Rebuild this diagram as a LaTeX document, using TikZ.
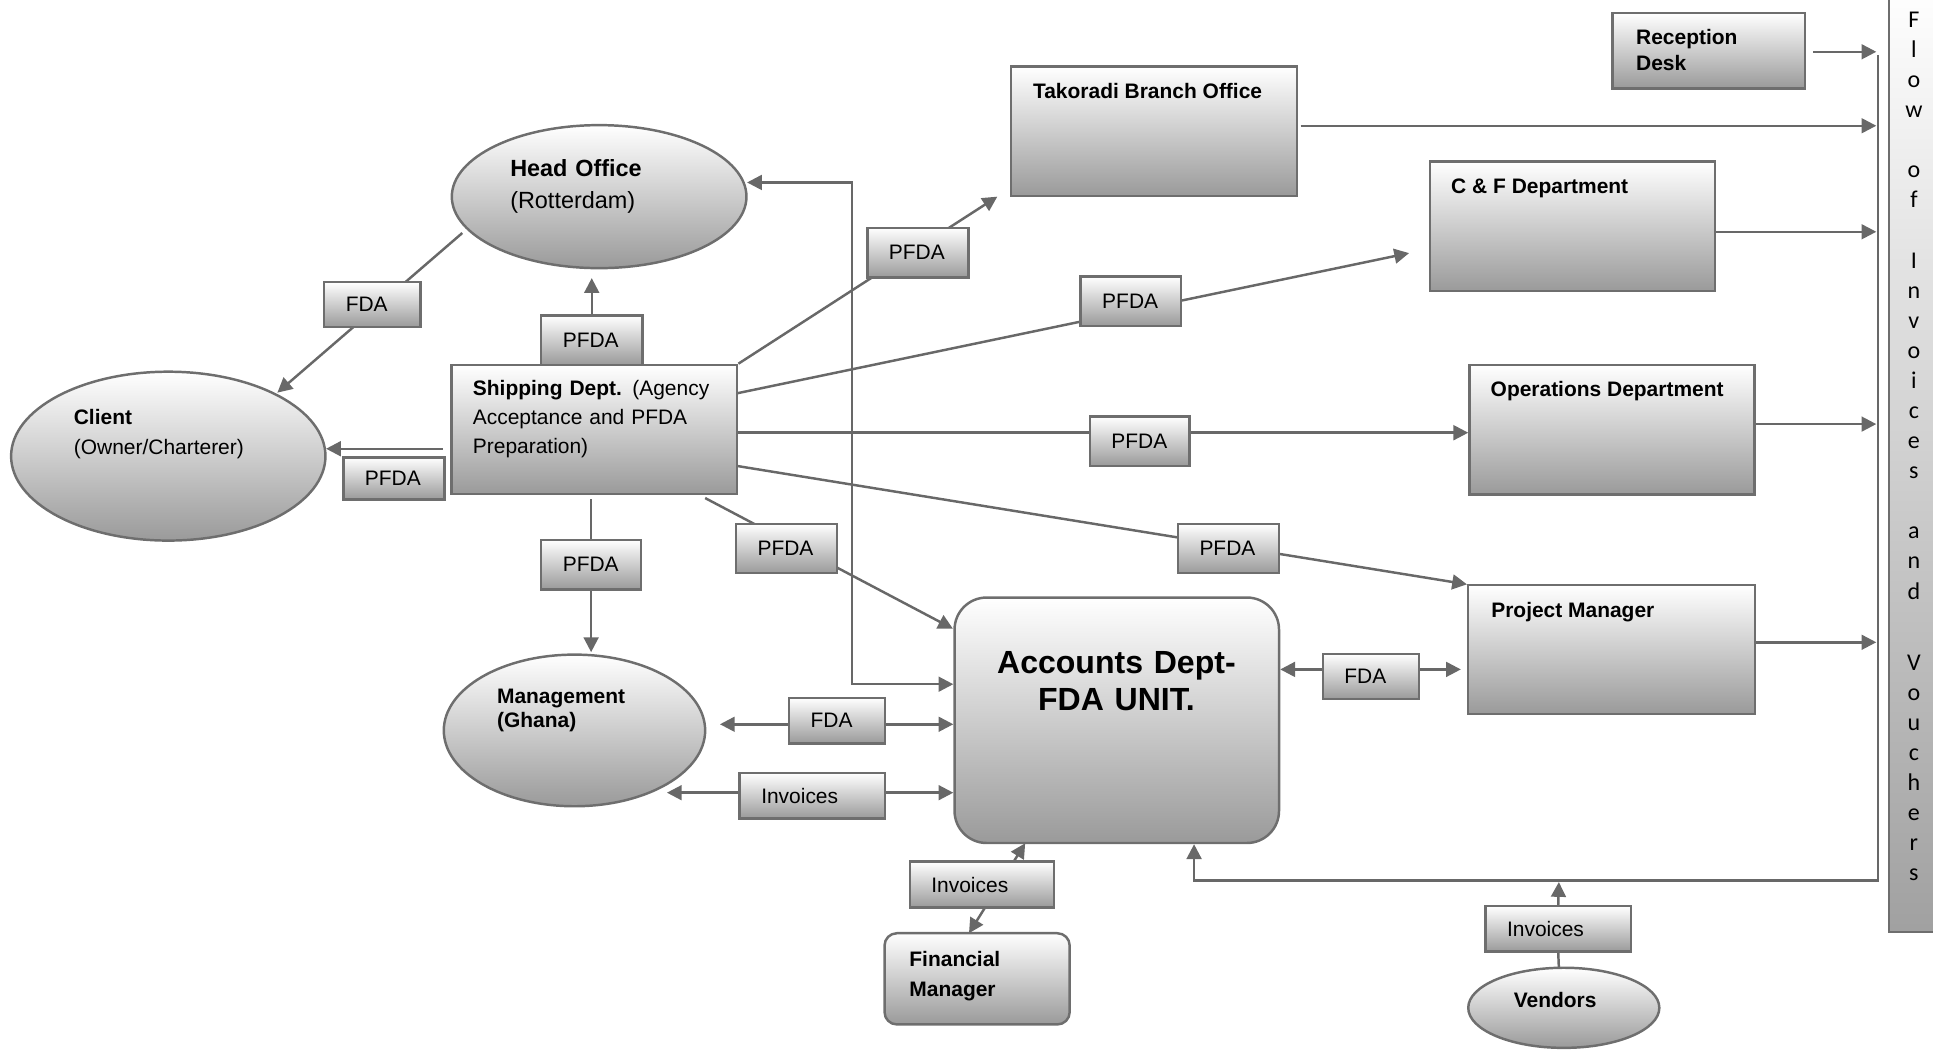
\documentclass[tikz,border=0pt]{standalone}
\usepackage{fontspec}
\setmainfont{Liberation Sans}
\newfontfamily\barfont{Carlito}
\usetikzlibrary{arrows.meta,shapes.geometric}
\pgfdeclarelayer{background}
\pgfsetlayers{background,main}
\definecolor{edgegray}{HTML}{6E6E6E}
\definecolor{linegray}{HTML}{686868}
\definecolor{shadegray}{HTML}{9A9A9A}
\newcommand\setfs[2]{\fontsize{#1}{#2}\selectfont}
\newcommand\fsNorm{\setfs{17}{23.3}}
\newcommand\fsBar{\barfont\setfs{19.5}{24.4}}

\begin{document}
\begin{tikzpicture}[x=1pt,y=-1pt,
  shaded/.style={draw=edgegray, line width=2pt, top color=white, bottom color=shadegray, inner sep=0pt},
  box/.style 2 args={shaded, rectangle, minimum width=#1, minimum height=#2},
  oval/.style 2 args={shaded, ellipse, minimum width=#1, minimum height=#2},
  tag/.style 2 args={shaded, rectangle, font=\fsNorm, align=left, inner xsep=17.5pt, inner ysep=0pt, text width=#1, minimum height=#2},
  txt/.style={inner sep=0pt, anchor=base west},
  wire/.style={draw=linegray, line width=2pt},
  arr/.style={wire, -{Triangle[length=12pt,width=12pt]}},
  darr/.style={wire, {Triangle[length=12pt,width=12pt]}-{Triangle[length=12pt,width=12pt]}},
]
\useasboundingbox (0,0) rectangle (1568,852);

% ---- side bar: flow of invoices and vouchers
\node[shaded, rectangle, line width=1.6pt, bottom color=black!37, minimum width=60pt, minimum height=770pt, anchor=south west] (flowbar) at (1531.7,756.5) {};
\node[inner sep=0pt, anchor=base, text width=30pt, align=center, font=\fsBar] (flowtxt) at (1552.5,22.3)
  {F\\l\\o\\w\\[24.4pt]o\\f\\[24.4pt]I\\n\\v\\o\\i\\c\\e\\s\\[24.4pt]a\\n\\d\\[33.2pt]V\\o\\u\\c\\h\\e\\r\\s};

% ---- departments and offices
\node[box={156pt}{61.3pt}] (rec) at (1386,41) {};
\node[txt, text width=140pt, align=left, font={\setfs{17}{20.8}\bfseries}] (rec-t) at (1327,36) {Reception\\Desk};

\node[box={232pt}{105pt}] (tak) at (936,106.5) {};
\node[txt, font={\fsNorm\bfseries}] (tak-t) at (837.8,79.8) {Takoradi Branch Office};

\node[box={231pt}{105pt}] (cf) at (1275.5,183.5) {};
\node[txt, font={\fsNorm\bfseries}] (cf-t) at (1177,156.8) {C \& F Department};

\node[box={231pt}{105pt}] (ops) at (1307.5,348.5) {};
\node[txt, font={\fsNorm\bfseries}] (ops-t) at (1209,322) {Operations Department};

\node[box={232.6pt}{104.5pt}] (pm) at (1307.3,526.75) {};
\node[txt, font={\fsNorm\bfseries}] (pm-t) at (1209.5,500.8) {Project Manager};

\node[box={231.6pt}{104.7pt}] (ship) at (482.2,348.35) {};
\node[txt, text width=210pt, align=left, font={\setfs{17}{23.2}}] (ship-t) at (383.4,321.2)
  {\textbf{Shipping Dept.} (Agency\\Acceptance and PFDA\\Preparation)};

\node[box={263.2pt}{199.1pt}, rounded corners=26pt] (acc) at (905.9,584.25) {};
\node[inner sep=0pt, anchor=base, text width=250pt, align=center, font={\setfs{26}{30}\bfseries}] (acc-t) at (905.6,546.4) {Accounts Dept-\\FDA UNIT.};

\node[box={150.2pt}{74pt}, rounded corners=10pt] (fin) at (792.6,794) {};
\node[txt, text width=120pt, align=left, font={\setfs{17}{24}\bfseries}] (fin-t) at (737.5,784) {Financial\\Manager};

\node[oval={239pt}{116pt}] (head) at (486,159.5) {};
\node[txt, text width=200pt, align=left, font={\setfs{19}{26.7}}] (head-t) at (413.7,142.8) {\textbf{Head Office}\\(Rotterdam)};

\node[oval={255pt}{137pt}] (client) at (136.5,370) {};
\node[txt, text width=200pt, align=left, font={\setfs{17}{23.6}}] (client-t) at (59.7,344.7) {\textbf{Client}\\(Owner/Charterer)};

\node[oval={212pt}{123pt}] (mgmt) at (466,592.5) {};
\node[txt, text width=150pt, align=left, font={\setfs{17}{20}\bfseries}] (mgmt-t) at (403,570.5) {Management\\(Ghana)};

\node[oval={155pt}{65pt}] (vendors) at (1268.5,817.5) {};
\node[inner sep=0pt, anchor=base, font={\fsNorm\bfseries}] (vendors-t) at (1261.5,817.5) {Vendors};

% ---- document tags on the flows
\node[tag={47pt}{40pt}]   (L1)  at (480,276)     {PFDA};
\node[tag={43pt}{36.5pt}] (L2)  at (302,247)     {FDA};
\node[tag={47pt}{34pt}]   (L3)  at (319.5,388)   {PFDA};
\node[tag={46pt}{40pt}]   (L4)  at (479.5,458)   {PFDA};
\node[tag={47pt}{40pt}]   (L5)  at (638,445)     {PFDA};
\node[tag={47pt}{40.5pt}] (L6)  at (744.5,205)   {PFDA};
\node[tag={46.4pt}{40pt}] (L7)  at (917.3,244.4) {PFDA};
\node[tag={46pt}{40pt}]   (L8)  at (924.5,358)   {PFDA};
\node[tag={47pt}{40pt}]   (L9)  at (996.5,445)   {PFDA};
\node[tag={43pt}{37pt}]   (L10) at (679,584.5)   {FDA};
\node[tag={83pt}{37pt}]   (L11) at (659,645.5)   {Invoices};
\node[tag={82pt}{37pt}]   (L12) at (796.5,717.5) {Invoices};
\node[tag={43pt}{36.5pt}] (L13) at (1112,548.75) {FDA};
\node[tag={83pt}{37pt}]   (L14) at (1264,753.5)  {Invoices};

% ---- end points of the flows
\coordinate (head-in)    at (480,225.6);
\coordinate (head-out)   at (375,189);
\coordinate (head-e)     at (606,148);
\coordinate (client-in1) at (225,318.5);
\coordinate (client-in2) at (264.5,364);
\coordinate (ship-w)     at (359,364);
\coordinate (ship-s)     at (479.5,404.8);
\coordinate (ship-se)    at (572,404);
\coordinate (ship-e1)    at (598,319);
\coordinate (ship-e2)    at (598,351);
\coordinate (ship-e3)    at (598,378);
\coordinate (mgmt-in)    at (479.5,529);
\coordinate (mgmt-e1)    at (584,587.5);
\coordinate (mgmt-e2)    at (541,643);
\coordinate (acc-in1)    at (773,510);
\coordinate (acc-in2)    at (831.6,684);
\coordinate (acc-pm)     at (1185,543);
\coordinate (riser)      at (691,555);
\coordinate (tak-in)     at (809,159.5);
\coordinate (cf-in)      at (1143,205.3);
\coordinate (pm-in)      at (1190,474);
\coordinate (fin-in)     at (786,757);
\coordinate (ven-top)    at (1264.5,785);
\coordinate (ven-up)     at (1264.5,715.5);
\coordinate (bus-top)    at (1523.5,44.6);
\coordinate (bus-corner) at (1523.5,714.4);
\coordinate (bus-left)   at (968.6,714.4);
\coordinate (busx)       at (1522,0);
\coordinate (rec-out)    at (1471,42);
\coordinate (tak-out)    at (1055,102);
\coordinate (cf-out)     at (1391,188);
\coordinate (ops-out)    at (1423,344);
\coordinate (pm-out)     at (1423.6,521);

% ---- connectors, behind the shapes and tags
\begin{pgfonlayer}{background}
\draw[arr] (L1.north) -- (head-in);
\draw[arr] (head-out) -- (client-in1);
\draw[arr] (ship-w) -- (client-in2);
\draw[arr] (ship-s) -- (mgmt-in);
\draw[arr] (ship-se) -- (acc-in1);
\draw[arr] (ship.north east) -- (tak-in);
\draw[arr] (ship-e1) -- (cf-in);
\draw[arr] (ship-e2) -- (ops.west |- ship-e2);
\draw[arr] (ship-e3) -- (pm-in);
\draw[darr] (head-e) -| (riser) -- (acc.west |- riser);
\draw[darr] (mgmt-e1) -- (acc.west |- mgmt-e1);
\draw[darr] (mgmt-e2) -- (acc.west |- mgmt-e2);
\draw[darr] (fin-in) -- (acc-in2);
\draw[darr] (acc.east |- acc-pm) -- (acc-pm);
\draw[wire] (ven-top) -- (L14.south);
\draw[arr] (L14.north) -- (ven-up);
\draw[arr] (bus-top) -- (bus-corner) -- (bus-left) -- (acc.south -| bus-left);
\draw[arr] (rec-out) -- (rec-out -| busx);
\draw[arr] (tak-out) -- (tak-out -| busx);
\draw[arr] (cf-out) -- (cf-out -| busx);
\draw[arr] (ops-out) -- (ops-out -| busx);
\draw[arr] (pm-out) -- (pm-out -| busx);
\end{pgfonlayer}
\end{tikzpicture}
\end{document}
